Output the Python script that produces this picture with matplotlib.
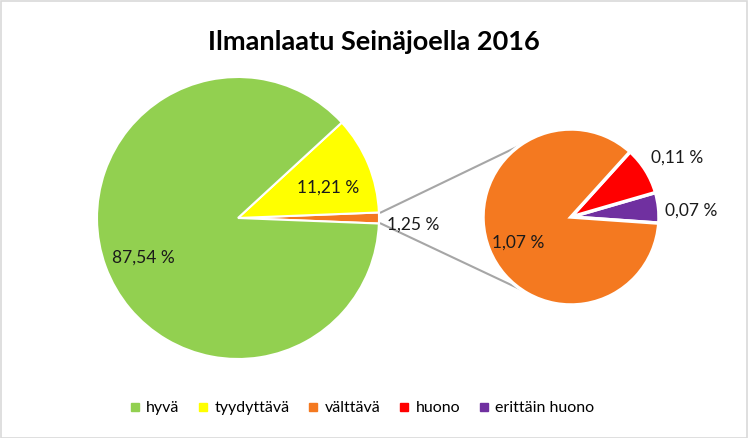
import numpy as np
import matplotlib.pyplot as plt
from matplotlib.patches import Rectangle
from matplotlib.lines import Line2D

plt.rcParams['font.family'] = ['Lato', 'DejaVu Sans']

# Pääpiirakka
main_labels = ['välttävä', 'tyydyttävä', 'hyvä']
main_values = [1.25, 11.21, 87.54]
main_colors = ['#F47920', '#FFFF00', '#92D050']

# Välttävä-osuuden jako
sub_labels = ['erittäin huono', 'huono', 'välttävä']
sub_values = [0.07, 0.11, 1.07]
sub_colors = ['#7030A0', '#FF0000', '#F47920']

legend_labels = ['hyvä', 'tyydyttävä', 'välttävä', 'huono', 'erittäin huono']
legend_colors = ['#92D050', '#FFFF00', '#F47920', '#FF0000', '#7030A0']

W, H = 748, 438
fig = plt.figure(figsize=(W / 100, H / 100), dpi=100)
ax = fig.add_axes([0, 0, 1, 1])

c1, r1 = (238, 220), 141
c2, r2 = (571, 221), 88

half = main_values[0] / sum(main_values) * 360 / 2
ax.pie(main_values, colors=main_colors, startangle=-half, center=c1, radius=r1,
       counterclock=True, wedgeprops=dict(edgecolor='white', linewidth=1.5))
ax.pie(sub_values, colors=sub_colors, startangle=-4, center=c2, radius=r2,
       counterclock=True, wedgeprops=dict(edgecolor='white', linewidth=2.5))
ax.set_xlim(0, W)
ax.set_ylim(0, H)
ax.set_aspect('equal')
ax.axis('off')

# yhdysviivat
for a1, a2 in [(half, 126), (-half, 236)]:
    x1 = c1[0] + r1 * np.cos(np.radians(a1))
    y1 = c1[1] + r1 * np.sin(np.radians(a1))
    x2 = c2[0] + r2 * np.cos(np.radians(a2))
    y2 = c2[1] + r2 * np.sin(np.radians(a2))
    ax.plot([x1 + 2, x2], [y1, y2], color='#A6A6A6', lw=1.5, zorder=0)

def fmt(v):
    return ('%.2f %%' % v).replace('.', ',')

txt = dict(fontsize=12.5, color='#1a1a1a', ha='center', va='center')
ax.text(143, H - 258, fmt(main_values[2]), **txt)
ax.text(328, H - 188, fmt(main_values[1]), **txt)
ax.text(413, H - 225, fmt(main_values[0]), **txt)
ax.text(518, H - 243, fmt(sub_values[2]), **txt)
ax.text(677, H - 158, fmt(sub_values[1]), **txt)
ax.text(691, H - 211, fmt(sub_values[0]), **txt)

ax.text(374, H - 42, 'Ilmanlaatu Seinäjoella 2016', fontsize=19.5,
        fontweight='bold', ha='center', va='center', color='black')

handles = [Line2D([], [], marker='s', ls='', color=c, markersize=6) for c in legend_colors]
fig.legend(handles, legend_labels, loc='center', bbox_to_anchor=(0.483, 1 - 408 / H),
           ncol=5, frameon=False, fontsize=11.5, handletextpad=0.3, columnspacing=1.1,
           handlelength=0.8)

fig.add_artist(Rectangle((0.001, 0.001), 0.997, 0.996, transform=fig.transFigure,
                         fill=False, edgecolor='#D9D9D9', lw=1.2))

fig.savefig('out.png', dpi=100)
